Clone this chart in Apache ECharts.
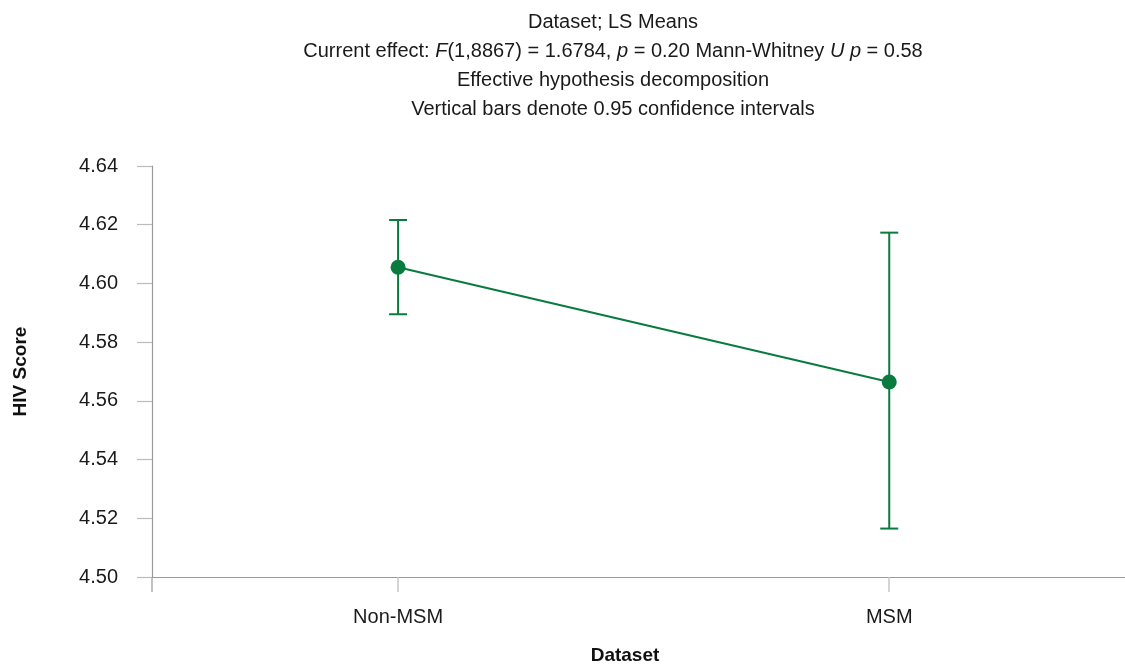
<!DOCTYPE html>
<html>
<head>
<meta charset="utf-8">
<script src="https://cdn.jsdelivr.net/npm/echarts@6/dist/echarts.min.js"></script>
<style>
html,body{margin:0;padding:0;background:#fff;}
#chart{width:1125px;height:668px;}
</style>
</head>
<body>
<div id="chart"></div>
<script>
var categories = ['Non-MSM', 'MSM'];
var means = [4.6055, 4.5664];
var lowerCI = [4.5895, 4.5165];
var upperCI = [4.6216, 4.6173];
var yTicks = [4.50, 4.52, 4.54, 4.56, 4.58, 4.60, 4.62, 4.64];

var GREEN = '#0a7b3e';
var FONT = 'Liberation Sans, Arial, sans-serif';

var chart = echarts.init(document.getElementById('chart'), null, {renderer: 'canvas'});

var catIdx = categories.map(function (c, i) { return i; });
var errData = catIdx.map(function (i) { return [i, lowerCI[i], upperCI[i]]; });
var meanData = catIdx.map(function (i) { return [i, means[i]]; });

var option = {
  backgroundColor: '#ffffff',
  animation: false,
  grid: {left: 152, top: 166, bottom: 91, right: 0, containLabel: false},
  xAxis: {
    type: 'value',
    min: -0.501,
    max: 1.48,
    axisLine: {show: true, onZero: false, lineStyle: {color: '#999999', width: 1.2}},
    axisTick: {show: true, customValues: catIdx, length: 15, lineStyle: {color: '#c8c8c8', width: 1.5}},
    axisLabel: {show: true, customValues: catIdx, margin: 30, fontFamily: FONT, fontSize: 20, color: '#1a1a1a',
      formatter: function (v) { return categories[Math.round(v)] || ''; }},
    splitLine: {show: false}
  },
  yAxis: {
    type: 'value',
    min: yTicks[0],
    max: yTicks[yTicks.length - 1],
    interval: 0.02,
    name: 'HIV Score',
    nameLocation: 'middle',
    nameGap: 122,
    nameTextStyle: {fontFamily: FONT, fontSize: 19, fontWeight: 'bold', color: '#111'},
    axisLine: {show: true, onZero: false, lineStyle: {color: '#999999', width: 1.2}},
    axisTick: {show: true, length: 15, lineStyle: {color: '#bbbbbb', width: 1.2}},
    axisLabel: {margin: 34, fontFamily: FONT, fontSize: 20, color: '#1a1a1a',
      formatter: function (v) { return v.toFixed(2); }},
    splitLine: {show: false}
  },
  graphic: [
    {
      type: 'text',
      x: 613, y: 8,
      style: {
        text: 'Dataset; LS Means\n' +
              '{n|Current effect: }{i|F}{n|(1,8867) = 1.6784, }{i|p}{n| = 0.20 Mann-Whitney }{i|U p}{n| = 0.58}\n' +
              'Effective hypothesis decomposition\n' +
              'Vertical bars denote 0.95 confidence intervals',
        align: 'center',
        verticalAlign: 'top',
        font: '20px ' + FONT,
        fill: '#1a1a1a',
        lineHeight: 29,
        rich: {
          n: {fontFamily: FONT, fontSize: 20, lineHeight: 29, fill: '#1a1a1a', color: '#1a1a1a'},
          i: {fontFamily: FONT, fontSize: 20, fontStyle: 'italic', lineHeight: 29, fill: '#1a1a1a', color: '#1a1a1a'}
        }
      }
    },
    {
      type: 'text',
      x: 625, y: 656,
      style: {
        text: 'Dataset',
        align: 'center',
        verticalAlign: 'middle',
        font: 'bold 19px ' + FONT,
        fill: '#111'
      }
    },
    {
      type: 'line',
      shape: {x1: 152, y1: 577, x2: 152, y2: 592},
      style: {stroke: '#999999', lineWidth: 1.2}
    }
  ],
  series: [
    {
      type: 'custom',
      z: 2,
      data: errData,
      renderItem: function (params, api) {
        var x = api.value(0);
        var lo = api.coord([x, api.value(1)]);
        var hi = api.coord([x, api.value(2)]);
        var hw = 9;
        var st = {stroke: GREEN, lineWidth: 2};
        return {
          type: 'group',
          children: [
            {type: 'line', shape: {x1: lo[0], y1: lo[1], x2: hi[0], y2: hi[1]}, style: st},
            {type: 'line', shape: {x1: lo[0] - hw, y1: lo[1], x2: lo[0] + hw, y2: lo[1]}, style: st},
            {type: 'line', shape: {x1: hi[0] - hw, y1: hi[1], x2: hi[0] + hw, y2: hi[1]}, style: st}
          ]
        };
      }
    },
    {
      type: 'line',
      z: 3,
      data: meanData,
      symbol: 'circle',
      symbolSize: 15,
      lineStyle: {color: GREEN, width: 2},
      itemStyle: {color: GREEN},
      emphasis: {disabled: true}
    }
  ]
};
chart.setOption(option);
</script>
</body>
</html>
